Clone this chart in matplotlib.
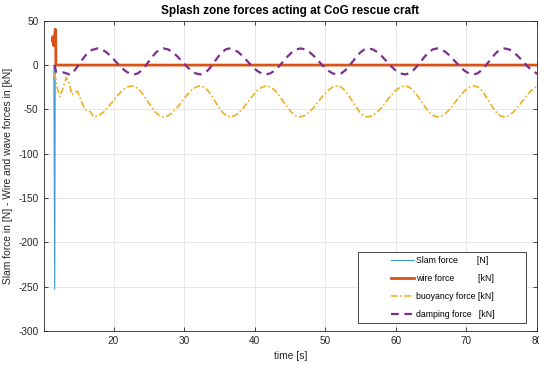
import matplotlib.pyplot as plt
from matplotlib.patches import Rectangle

# slam force [N]
slam_t = [11.55, 11.67, 11.74, 80.0]
slam_f = [0.0, -253.0, 0.0, 0.0]

# wire force [kN]
wire_t = [11.35, 11.40, 11.45, 11.50, 11.55, 11.62, 11.68, 11.74, 11.80, 11.84, 80.0]
wire_f = [28.0, 32.0, 25.0, 22.0, 24.0, 30.0, 34.0, 40.5, 38.0, 0.0, 0.0]

# buoyancy force [kN]
buoy_t = [11.67, 12.0, 12.4, 12.8, 13.3, 13.7, 14.1, 14.5, 14.9, 15.4, 15.96, 16.7, 17.2,
          17.88, 18.55, 19.23, 19.9, 20.58, 21.25, 21.93, 22.6,
          23.16, 23.73, 24.29, 24.85, 25.41, 25.98, 26.54, 27.1,
          27.75, 28.4, 29.05, 29.7, 30.35, 31.0, 31.65, 32.3,
          32.83, 33.35, 33.88, 34.4, 34.93, 35.45, 35.98, 36.5,
          37.15, 37.8, 38.45, 39.1, 39.75, 40.4, 41.05, 41.7,
          42.29, 42.88, 43.46, 44.05, 44.64, 45.23, 45.81, 46.4,
          47.06, 47.73, 48.39, 49.05, 49.71, 50.38, 51.04, 51.7,
          52.24, 52.78, 53.31, 53.85, 54.39, 54.93, 55.46, 56.0,
          56.66, 57.33, 57.99, 58.65, 59.31, 59.98, 60.64, 61.3,
          61.88, 62.45, 63.03, 63.6, 64.18, 64.75, 65.33, 65.9,
          66.55, 67.2, 67.85, 68.5, 69.15, 69.8, 70.45, 71.1,
          71.63, 72.15, 72.68, 73.2, 73.73, 74.25, 74.78, 75.3,
          75.95, 76.6, 77.25, 77.9, 78.55, 79.2, 79.85, 80.5]
buoy_f = [-9.5, -25.0, -35.7, -27.0, -14.0, -20.0, -33.5, -31.0, -29.5, -40.0, -50.5, -52.5, -58.5,
          -57.2, -53.4, -47.7, -41.0, -34.3, -28.6, -24.8, -23.5,
          -24.8, -28.6, -34.3, -41.0, -47.7, -53.4, -57.2, -58.5,
          -57.2, -53.4, -47.7, -41.0, -34.3, -28.6, -24.8, -23.5,
          -24.8, -28.6, -34.3, -41.0, -47.7, -53.4, -57.2, -58.5,
          -57.2, -53.4, -47.7, -41.0, -34.3, -28.6, -24.8, -23.5,
          -24.8, -28.6, -34.3, -41.0, -47.7, -53.4, -57.2, -58.5,
          -57.2, -53.4, -47.7, -41.0, -34.3, -28.6, -24.8, -23.5,
          -24.8, -28.6, -34.3, -41.0, -47.7, -53.4, -57.2, -58.5,
          -57.2, -53.4, -47.7, -41.0, -34.3, -28.6, -24.8, -23.5,
          -24.8, -28.6, -34.3, -41.0, -47.7, -53.4, -57.2, -58.5,
          -57.2, -53.4, -47.7, -41.0, -34.3, -28.6, -24.8, -23.5,
          -24.8, -28.6, -34.3, -41.0, -47.7, -53.4, -57.2, -58.5,
          -57.2, -53.4, -47.7, -41.0, -34.3, -28.6, -24.8, -23.5]

# damping force [kN]
damp_t = [11.67, 11.85, 12.4, 12.9, 13.4, 13.85, 14.4, 15.0, 15.6, 16.2, 16.9, 17.7,
          18.35, 19.0, 19.65, 20.3, 20.95, 21.6, 22.25, 22.9,
          23.43, 23.95, 24.48, 25.0, 25.53, 26.05, 26.58, 27.1,
          27.75, 28.4, 29.05, 29.7, 30.35, 31.0, 31.65, 32.3,
          32.81, 33.33, 33.84, 34.35, 34.86, 35.38, 35.89, 36.4,
          37.05, 37.7, 38.35, 39.0, 39.65, 40.3, 40.95, 41.6,
          42.21, 42.83, 43.44, 44.05, 44.66, 45.28, 45.89, 46.5,
          47.15, 47.8, 48.45, 49.1, 49.75, 50.4, 51.05, 51.7,
          52.25, 52.8, 53.35, 53.9, 54.45, 55.0, 55.55, 56.1,
          56.75, 57.4, 58.05, 58.7, 59.35, 60.0, 60.65, 61.3,
          61.86, 62.43, 62.99, 63.55, 64.11, 64.68, 65.24, 65.8,
          66.45, 67.1, 67.75, 68.4, 69.05, 69.7, 70.35, 71.0,
          71.55, 72.1, 72.65, 73.2, 73.75, 74.3, 74.85, 75.4,
          76.05, 76.7, 77.35, 78.0, 78.65, 79.3, 79.95, 80.6]
damp_f = [0.0, -7.5, -8.5, -8.3, -9.5, -11.0, -7.0, -0.5, 6.5, 12.5, 17.0, 18.8,
          17.7, 14.5, 9.75, 4.15, -1.45, -6.2, -9.4, -10.5,
          -9.4, -6.2, -1.45, 4.15, 9.75, 14.5, 17.7, 18.8,
          17.7, 14.5, 9.75, 4.15, -1.45, -6.2, -9.4, -10.5,
          -9.4, -6.2, -1.45, 4.15, 9.75, 14.5, 17.7, 18.8,
          17.7, 14.5, 9.75, 4.15, -1.45, -6.2, -9.4, -10.5,
          -9.4, -6.2, -1.45, 4.15, 9.75, 14.5, 17.7, 18.8,
          17.7, 14.5, 9.75, 4.15, -1.45, -6.2, -9.4, -10.5,
          -9.4, -6.2, -1.45, 4.15, 9.75, 14.5, 17.7, 18.8,
          17.7, 14.5, 9.75, 4.15, -1.45, -6.2, -9.4, -10.5,
          -9.4, -6.2, -1.45, 4.15, 9.75, 14.5, 17.7, 18.8,
          17.7, 14.5, 9.75, 4.15, -1.45, -6.2, -9.4, -10.5,
          -9.4, -6.2, -1.45, 4.15, 9.75, 14.5, 17.7, 18.8,
          17.7, 14.5, 9.75, 4.15, -1.45, -6.2, -9.4, -10.5]

labels = ['Slam force        [N]', 'wire force          [kN]',
          'buoyancy force [kN]', 'damping force   [kN]']
x_ticks = [20, 30, 40, 50, 60, 70, 80]
y_ticks = [-300, -250, -200, -150, -100, -50, 0, 50]

plt.rcParams['font.family'] = ['Liberation Sans', 'DejaVu Sans']
plt.rcParams['axes.unicode_minus'] = False

fig = plt.figure(figsize=(5.39, 3.65), dpi=100)
ax = fig.add_axes([0.0816, 0.0937, 0.9147, 0.8493])

ax.plot(slam_t, slam_f, color='#3c9ad6', lw=0.8, label=labels[0])
ax.plot(wire_t, wire_f, color='#D95319', lw=2.0, label=labels[1])
ax.plot(buoy_t, buoy_f, color='#EDB120', lw=1.2, ls=(0, (4, 1.5, 1, 1.5)), label=labels[2])
ax.plot(damp_t, damp_f, color='#7E2F8E', lw=1.6, ls=(0, (3.5, 2.5)), label=labels[3])

ax.set_xlim(10.15, 80)
ax.set_ylim(-300, 50)
ax.set_xticks(x_ticks)
ax.set_yticks(y_ticks)
ax.grid(True, color='#e3e3e3', lw=0.6)
ax.set_axisbelow(True)
ax.tick_params(direction='in', length=3, width=0.6, top=True, right=True,
               labelsize=7.2, colors='#262626', pad=4)
for s in ax.spines.values():
    s.set_color('#262626')
    s.set_linewidth(0.6)

ax.set_title('Splash zone forces acting at CoG rescue craft', fontsize=8.5,
             fontweight='bold', color='black', pad=5)
ax.set_xlabel('time [s]', fontsize=7.4, color='#262626', labelpad=3)
ax.set_ylabel('Slam force in [N] - Wire and wave forces in [kN]', fontsize=7.4,
              color='#262626')
ax.yaxis.set_label_coords(-0.063, 0.5)

# legend box drawn by hand so the entries sit centred like the original
box = Rectangle((358 / 539, 1 - 323 / 365), 168 / 539, 71 / 365,
                transform=fig.transFigure, facecolor='white',
                edgecolor='#262626', lw=0.6, zorder=5, clip_on=False)
ax.add_patch(box)
leg = ax.legend(loc='center', bbox_to_anchor=(0.821, 0.212),
                bbox_transform=fig.transFigure, frameon=False, fontsize=6.3,
                handlelength=2.7, handletextpad=0.2, labelspacing=1.05)
leg.set_zorder(6)

fig.savefig('out.png', dpi=100)
